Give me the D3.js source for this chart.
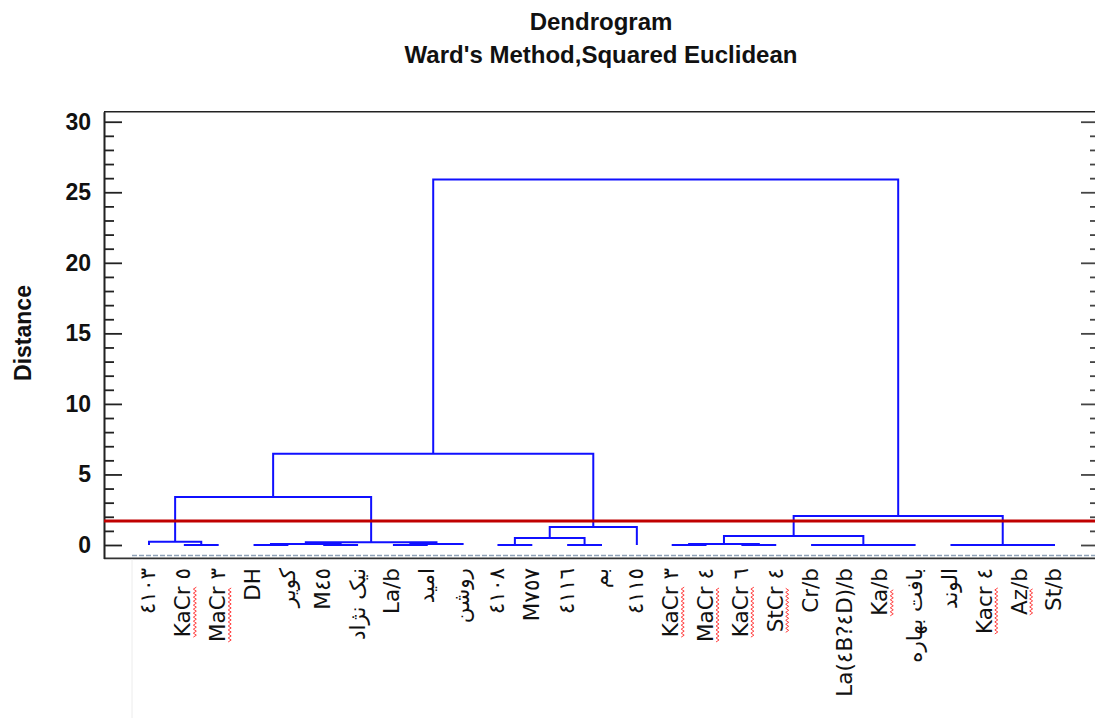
<!DOCTYPE html>
<html>
<head>
<meta charset="utf-8">
<title>Dendrogram</title>
<script src="https://d3js.org/d3.v7.min.js"></script>
<style>
	html, body { margin: 0; padding: 0; background: #fff; }
	svg { display: block; }
	.title { font-family: "Liberation Sans", Arial, sans-serif; font-weight: bold; font-size: 24px; fill: #111; }
	.axis text { font-family: "Liberation Sans", Arial, sans-serif; font-weight: bold; font-size: 23px; fill: #111; }
	.axis-title { font-family: "Liberation Sans", Arial, sans-serif; font-weight: bold; font-size: 23px; fill: #111; }
	.leaf { font-family: "DejaVu Sans", sans-serif; font-size: 21.5px; fill: #111; }
</style>
</head>
<body>
<div id="canvas"></div>
<script>
/**
 * Dendrogram - Ward's Method, Squared Euclidean
 */

// Leaf labels, left to right
var labels = [ '٤١٠٣', 'KaCr ٥', 'MaCr ٣', 'DH', 'کویر', 'M٤٥', 'نیک نژاد', 'La/b', 'امید',
	'روشن', '٤١٠٨', 'M٧٥٧', '٤١١٦', 'بم', '٤١١٥', 'KaCr ٣', 'MaCr ٤', 'KaCr ٦',
	'StCr ٤', 'Cr/b', 'La(٤B?٤D)/b', 'Ka/b', 'بافت بهاره', 'الوند', 'Kacr ٤', 'Az/b', 'St/b' ];

// Part of each label carrying the red spell-check squiggle (null = none)
var flagged = [ null, 'KaCr', 'MaCr', null, null, null, null, null, null,
	null, null, null, null, null, null, 'KaCr', 'MaCr', 'KaCr',
	'StCr', null, null, 'Ka', null, null, 'Kacr', 'Az', null ];

// Merge steps: node ids joined and the distance; new nodes get ids 27, 28, ...
var mergeLeft   = [ 1, 0, 3, 5, 29, 7, 32, 31, 28, 10, 12, 36, 38, 35, 15, 17, 41, 19, 21, 44, 43, 23, 25, 48, 47, 40 ];
var mergeRight  = [ 2, 27, 4, 6, 30, 8, 9, 33, 34, 11, 13, 37, 14, 39, 16, 18, 42, 20, 22, 45, 46, 24, 26, 49, 50, 51 ];
var mergeHeight = [ 0, 0.23, 0, 0, 0.07, 0, 0.07, 0.2, 3.4, 0, 0, 0.5, 1.28, 6.46, 0, 0, 0.07, 0, 0, 0, 0.64, 0, 0, 0, 2.06, 25.9 ];

// Axis
var yTicks = [ 0, 5, 10, 15, 20, 25, 30 ];
var yMinor = d3.range(1, 30).filter(function(v) { return v % 5 !== 0; });
var yExtent = [ -0.95, 30.71 ];
var cutDistance = 1.7;

document.addEventListener('DOMContentLoaded', function() {

	var width = 1095,
		height = 718,
		plotLeft = 104,
		plotRight = 1099,
		lineColor = '#1010ff',
		cutColor = '#c00000',
		labelTop = 568;

	var svg = d3.select('#canvas').append('svg')
		.attr('width', width)
		.attr('height', height);

	var y = d3.scaleLinear().domain(yExtent).range([558.4, 111.7]),
		x = d3.scalePoint().domain(d3.range(labels.length)).range([149, 1055]);

	// Titles
	svg.append('text').attr('class', 'title')
		.attr('x', 601).attr('y', 30).attr('text-anchor', 'middle')
		.text('Dendrogram');
	svg.append('text').attr('class', 'title')
		.attr('x', 601).attr('y', 63).attr('text-anchor', 'middle')
		.text("Ward's Method,Squared Euclidean");
	svg.append('text').attr('class', 'axis-title')
		.attr('transform', 'translate(31,333) rotate(-90)')
		.attr('text-anchor', 'middle')
		.text('Distance');

	// Frame: top and bottom edges
	svg.append('line')
		.attr('x1', plotLeft).attr('x2', plotRight)
		.attr('y1', y(yExtent[1])).attr('y2', y(yExtent[1]))
		.attr('stroke', '#222').attr('stroke-width', 1.6);
	svg.append('line')
		.attr('x1', plotLeft).attr('x2', plotRight)
		.attr('y1', y(yExtent[0])).attr('y2', y(yExtent[0]))
		.attr('stroke', '#333').attr('stroke-width', 1.6);
	svg.append('line')
		.attr('x1', 132).attr('x2', width)
		.attr('y1', y(yExtent[0]) - 3).attr('y2', y(yExtent[0]) - 3)
		.attr('stroke', '#8fa2b8').attr('stroke-width', 1.5)
		.attr('stroke-dasharray', '5,2');
	svg.append('line')
		.attr('x1', 132).attr('x2', 132)
		.attr('y1', y(yExtent[0]) + 1).attr('y2', height)
		.attr('stroke', '#ececec');

	// Left axis, ticks pointing inward
	var gLeft = svg.append('g').attr('class', 'axis')
		.attr('transform', 'translate(' + plotLeft + ',0)');
	gLeft.call(d3.axisLeft(y).tickValues(yTicks).tickSizeInner(-18).tickSizeOuter(0).tickPadding(13));
	gLeft.append('g').call(d3.axisLeft(y).tickValues(yMinor).tickSizeInner(-10).tickSizeOuter(0).tickFormat(''));
	gLeft.selectAll('path.domain').attr('stroke', '#222').attr('stroke-width', 1.6);
	gLeft.selectAll('.tick line').attr('stroke', '#222').attr('stroke-width', 1.8);
	gLeft.selectAll('.tick text').attr('fill', '#111');

	// Right axis, ticks pointing inward
	var gRight = svg.append('g').attr('class', 'axis')
		.attr('transform', 'translate(' + plotRight + ',0)');
	gRight.call(d3.axisRight(y).tickValues(yTicks).tickSizeInner(-18).tickSizeOuter(0).tickFormat(''));
	gRight.append('g').call(d3.axisRight(y).tickValues(yMinor).tickSizeInner(-9).tickSizeOuter(0).tickFormat(''));
	gRight.selectAll('.tick line').attr('stroke', '#444').attr('stroke-width', 1.8);

	// Node positions and heights
	var nodeX = labels.map(function(d, i) { return x(i); }),
		nodeH = labels.map(function() { return 0; }),
		links = [];
	mergeLeft.forEach(function(a, i) {
		var b = mergeRight[i], h = mergeHeight[i];
		links.push({ a: a, b: b, h: h });
		nodeX.push((nodeX[a] + nodeX[b]) / 2);
		nodeH.push(h);
	});

	// Dendrogram links
	svg.append('g').selectAll('path')
		.data(links)
		.enter()
			.append('path')
			.attr('d', function(d) {
				return 'M' + nodeX[d.a] + ',' + y(nodeH[d.a]) +
					'V' + y(d.h) +
					'H' + nodeX[d.b] +
					'V' + y(nodeH[d.b]);
			})
			.attr('fill', 'none')
			.attr('stroke', lineColor)
			.attr('stroke-width', 2);

	// Cut line
	svg.append('line')
		.attr('x1', plotLeft).attr('x2', width)
		.attr('y1', y(cutDistance)).attr('y2', y(cutDistance))
		.attr('stroke', cutColor).attr('stroke-width', 3);

	// Leaf labels, rotated
	var measure = svg.append('text').attr('class', 'leaf').attr('visibility', 'hidden');
	var gLabels = svg.append('g').selectAll('g')
		.data(labels)
		.enter()
			.append('g')
			.attr('transform', function(d, i) {
				return 'translate(' + x(i) + ',' + labelTop + ') rotate(-90)';
			});
	gLabels.append('text')
		.attr('class', 'leaf')
		.attr('text-anchor', 'end')
		.attr('dy', '0.3em')
		.text(function(d) { return d; });

	// Spell-check squiggles under flagged words
	gLabels.each(function(d, i) {
		if (!flagged[i]) return;
		var full = measure.text(d).node().getComputedTextLength(),
			part = measure.text(flagged[i]).node().getComputedTextLength(),
			pts = [], k = 0;
		for (var t = -full; t <= -full + part; t += 2, k++) {
			pts.push([t, 11 + (k % 2 ? 1.5 : -1.5)]);
		}
		d3.select(this).append('path')
			.attr('d', d3.line()(pts))
			.attr('fill', 'none')
			.attr('stroke', '#ff4040')
			.attr('stroke-width', 1);
	});
	measure.remove();

});
</script>
</body>
</html>
